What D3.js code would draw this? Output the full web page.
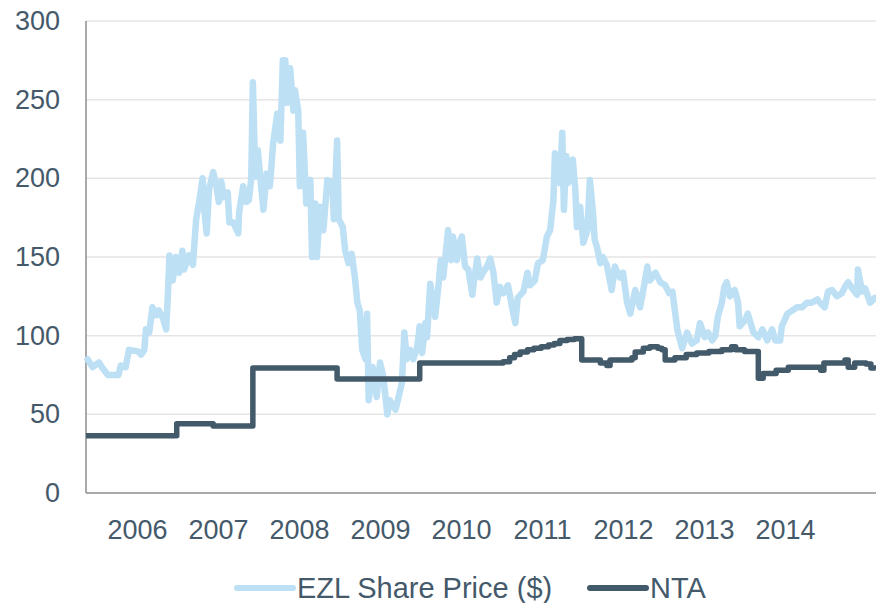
<!DOCTYPE html>
<html>
<head>
<meta charset="utf-8">
<script src="https://cdn.jsdelivr.net/npm/d3@7"></script>
<style>
  body { margin: 0; background: #fff; }
  text { font-family: "Liberation Sans", Arial, sans-serif; fill: #44596a; }
</style>
</head>
<body>
<div id="chart"></div>
<script>
// EZL share price vs NTA, decimal years

var priceYears = [2005.89, 2005.95, 2006.03, 2006.08, 2006.14, 2006.27, 2006.30, 2006.36, 2006.40, 2006.51,
  2006.55, 2006.59, 2006.61, 2006.65, 2006.69, 2006.74, 2006.77, 2006.82, 2006.86, 2006.88,
  2006.90, 2006.94, 2006.98, 2007.02, 2007.06, 2007.08, 2007.14, 2007.19, 2007.23, 2007.27,
  2007.31, 2007.33, 2007.36, 2007.39, 2007.44, 2007.48, 2007.51, 2007.54, 2007.57, 2007.62,
  2007.64, 2007.69, 2007.75, 2007.76, 2007.81, 2007.85, 2007.88, 2007.91, 2007.93, 2007.96,
  2007.99, 2008.06, 2008.10, 2008.14, 2008.18, 2008.23, 2008.27, 2008.30, 2008.33, 2008.35,
  2008.39, 2008.43, 2008.45, 2008.49, 2008.51, 2008.55, 2008.59, 2008.64, 2008.66, 2008.70,
  2008.72, 2008.76, 2008.80, 2008.85, 2008.91, 2008.93, 2008.97, 2008.99, 2009.04, 2009.07,
  2009.11, 2009.15, 2009.19, 2009.22, 2009.25, 2009.28, 2009.32, 2009.34, 2009.36, 2009.41,
  2009.46, 2009.50, 2009.54, 2009.59, 2009.62, 2009.69, 2009.72, 2009.77, 2009.80, 2009.83,
  2009.87, 2009.91, 2009.96, 2009.99, 2010.02, 2010.06, 2010.08, 2010.12, 2010.18, 2010.22,
  2010.25, 2010.28, 2010.34, 2010.38, 2010.40, 2010.45, 2010.48, 2010.51, 2010.55, 2010.59,
  2010.64, 2010.66, 2010.70, 2010.74, 2010.77, 2010.82, 2010.86, 2010.90, 2010.94, 2010.98,
  2011.02, 2011.08, 2011.13, 2011.17, 2011.20, 2011.27, 2011.32, 2011.35, 2011.41, 2011.45,
  2011.51, 2011.56, 2011.60, 2011.64, 2011.66, 2011.69, 2011.72, 2011.75, 2011.77, 2011.80,
  2011.82, 2011.88, 2011.91, 2011.93, 2011.97, 2012.01, 2012.06, 2012.09, 2012.13, 2012.15,
  2012.18, 2012.22, 2012.25, 2012.30, 2012.36, 2012.40, 2012.46, 2012.50, 2012.55, 2012.59,
  2012.65, 2012.71, 2012.75, 2012.80, 2012.83, 2012.90, 2012.96, 2013.02, 2013.07, 2013.11,
  2013.14, 2013.17, 2013.23, 2013.29, 2013.35, 2013.41, 2013.45, 2013.51, 2013.55, 2013.60,
  2013.64, 2013.67, 2013.72, 2013.75, 2013.78, 2013.82, 2013.88, 2013.92, 2013.94, 2014.01,
  2014.04, 2014.11, 2014.17, 2014.22, 2014.28, 2014.34, 2014.38, 2014.44, 2014.46, 2014.53,
  2014.59, 2014.65, 2014.71, 2014.77, 2014.83, 2014.90, 2014.93, 2014.99, 2015.03, 2015.08,
  2015.14, 2015.20, 2015.24, 2015.28, 2015.33, 2015.39, 2015.40, 2015.45, 2015.49, 2015.55,
  2015.61];

var priceValues = [85, 80, 83, 79, 75, 75, 81, 80, 91, 90,
  88, 91, 104, 102, 118, 113, 116, 111, 104, 125,
  151, 135, 150, 140, 154, 142, 151, 145, 174, 186,
  200, 180, 165, 193, 204, 195, 185, 198, 188, 191,
  172, 172, 165, 178, 195, 185, 186, 200, 261, 201,
  218, 180, 203, 195, 222, 241, 224, 275, 275, 248,
  270, 243, 256, 243, 195, 229, 184, 199, 150, 184,
  150, 182, 167, 199, 197, 174, 224, 174, 169, 154,
  146, 152, 137, 121, 116, 91, 85, 114, 59, 80,
  61, 83, 74, 50, 59, 53, 59, 70, 102, 85,
  91, 85, 93, 106, 89, 108, 99, 133, 112, 131,
  148, 137, 167, 148, 163, 148, 159, 163, 144, 142,
  126, 135, 149, 137, 140, 144, 149, 140, 121, 131,
  127, 132, 118, 108, 124, 128, 140, 132, 135, 146,
  148, 163, 167, 186, 216, 210, 197, 229, 180, 214,
  197, 212, 193, 169, 182, 159, 167, 199, 178, 161,
  156, 146, 150, 145, 129, 144, 137, 140, 121, 114,
  129, 118, 129, 144, 135, 140, 134, 132, 127, 128,
  116, 104, 92, 102, 95, 97, 108, 99, 102, 97,
  100, 112, 121, 131, 134, 125, 129, 121, 106, 110,
  114, 102, 99, 104, 97, 104, 97, 97, 106, 114,
  116, 118, 118, 121, 121, 123, 121, 118, 128, 129,
  125, 127, 131, 134, 130, 126, 142, 128, 130, 121,
  124, 118];

var ntaYears = [2005.87, 2006.99, 2007.44, 2007.93, 2008.97, 2009.99, 2011.02, 2011.10, 2011.16,
  2011.23, 2011.32, 2011.40, 2011.49, 2011.58, 2011.65, 2011.72, 2011.81, 2011.90, 2011.99,
  2012.22, 2012.30, 2012.34, 2012.61, 2012.65, 2012.75, 2012.83, 2012.93, 2012.98, 2013.02,
  2013.14, 2013.28, 2013.41, 2013.56, 2013.72, 2013.84, 2013.89, 2014.00, 2014.17, 2014.23,
  2014.39, 2014.54, 2014.94, 2014.98, 2015.24, 2015.28, 2015.36, 2015.50, 2015.56, 2015.62];

var ntaValues = [36.4, 44, 42.6, 79.5, 72.4, 82.6, 83.5, 86, 88,
  89.6, 91, 92, 93, 94, 95, 97, 97.5, 98, 84.5,
  82.6, 81, 84.5, 86, 89.6, 92, 93, 92, 91, 84.5,
  86, 88, 89, 90, 91, 93, 91, 90, 73, 76,
  78, 80, 78, 82.6, 84.5, 80, 82.6, 82, 79.5, 79];

var yTicks = [0, 50, 100, 150, 200, 250, 300];
var yearLabels = [2006, 2007, 2008, 2009, 2010, 2011, 2012, 2013, 2014];
var seriesNames = ["EZL Share Price ($)", "NTA"];
var seriesColors = ["#bde0f5", "#435a6b"];

(function() {
var W = 876, H = 603;
var mLeft = 86, mRight = 876, mTop = 21, mBottom = 493;

var svg = d3.select("#chart").append("svg")
  .attr("width", W)
  .attr("height", H);

var x = d3.scaleLinear()
  .domain([2005.87, 2015.623])
  .range([mLeft, mRight]);

var y = d3.scaleLinear()
  .domain([0, 300])
  .range([mBottom, mTop]);

// gridlines
svg.append("g")
  .selectAll("line")
  .data(yTicks.filter(function(d) { return d > 0; }))
  .enter().append("line")
  .attr("x1", mLeft).attr("x2", mRight)
  .attr("y1", function(d) { return y(d); })
  .attr("y2", function(d) { return y(d); })
  .attr("stroke", "#e5e5e5")
  .attr("stroke-width", 1.5);

// y axis labels
var yAxis = d3.axisLeft(y).tickValues(yTicks).tickSize(0).tickPadding(26);
var gy = svg.append("g")
  .attr("transform", "translate(" + mLeft + ",0)")
  .call(yAxis);
gy.select(".domain").remove();
gy.selectAll("text")
  .style("font-size", "27px")
  .attr("fill", "#44596a");

// x axis: year labels centred in each year
var xAxis = d3.axisBottom(x)
  .tickValues(yearLabels.map(function(d) { return d + 0.5; }))
  .tickFormat(function(d) { return String(Math.floor(d)); })
  .tickSize(0).tickPadding(27);
var gx = svg.append("g")
  .attr("transform", "translate(0," + mBottom + ")")
  .call(xAxis);
gx.select(".domain").remove();
gx.selectAll("text")
  .style("font-size", "27px")
  .attr("fill", "#44596a");

// axis lines
svg.append("line")
  .attr("x1", mLeft).attr("x2", mLeft)
  .attr("y1", mTop).attr("y2", mBottom)
  .attr("stroke", "#8c8c8c").attr("stroke-width", 1.5);
svg.append("line")
  .attr("x1", mLeft).attr("x2", mRight)
  .attr("y1", mBottom).attr("y2", mBottom)
  .attr("stroke", "#8c8c8c").attr("stroke-width", 1.5);

var priceData = priceYears.map(function(t, i) { return { t: t, v: priceValues[i] }; });
var ntaData = ntaYears.map(function(t, i) { return { t: t, v: ntaValues[i] }; });

var line = d3.line()
  .x(function(d) { return x(d.t); })
  .y(function(d) { return y(d.v); });

svg.append("path")
  .datum(priceData)
  .attr("d", line)
  .attr("fill", "none")
  .attr("stroke", seriesColors[0])
  .attr("stroke-width", 6.5)
  .attr("stroke-linejoin", "round")
  .attr("stroke-linecap", "round");

svg.append("path")
  .datum(ntaData)
  .attr("d", line.curve(d3.curveStepAfter))
  .attr("fill", "none")
  .attr("stroke", seriesColors[1])
  .attr("stroke-width", 5.5)
  .attr("stroke-linejoin", "round");

// legend
var legendX = [237, 590];
var legend = svg.append("g");
seriesNames.forEach(function(name, i) {
  legend.append("line")
    .attr("x1", legendX[i]).attr("x2", legendX[i] + 56)
    .attr("y1", 588).attr("y2", 588)
    .attr("stroke", seriesColors[i])
    .attr("stroke-width", 6)
    .attr("stroke-linecap", "round");
  legend.append("text")
    .attr("x", legendX[i] + 60)
    .attr("y", 598)
    .style("font-size", "29px")
    .text(name);
});
})();
</script>
</body>
</html>
